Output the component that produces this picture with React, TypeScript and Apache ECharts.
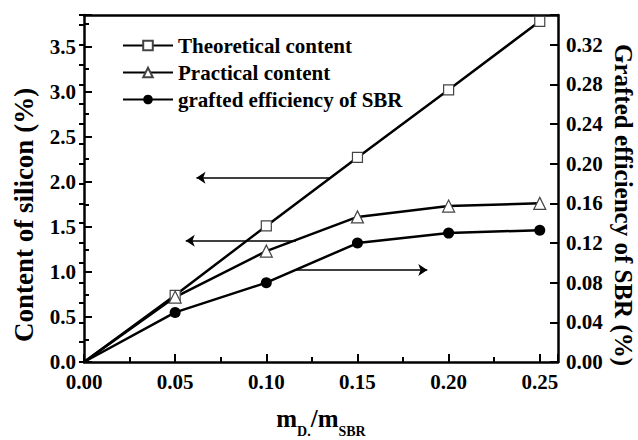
import React, { useEffect, useRef } from 'react';
import * as echarts from 'echarts';

const xValues = [0, 0.05, 0.1, 0.15, 0.2, 0.25];
const theoretical = [0, 0.74, 1.51, 2.27, 3.02, 3.78];
const practical = [0, 0.72, 1.23, 1.61, 1.73, 1.76];
const efficiency = [0, 0.05, 0.08, 0.12, 0.13, 0.133];
const seriesNames = ['Theoretical content', 'Practical content', 'grafted efficiency of SBR'];

const xTicks = { min: 0, max: 0.26, major: 0.05, minor: 0.025 };
const leftTicks = { min: 0, max: 3.85, major: 0.5, minor: 0.25 };
const rightTicks = { min: 0, max: 0.35, major: 0.04, minor: 0.02 };

// annotation arrows (data coordinates): start x, end x (tip), y value
const arrowStartX = [0.1346, 0.1163, 0.1163];
const arrowEndX = [0.0617, 0.0558, 0.1883];
const arrowY = [2.045, 1.346, 0.0928];

// x axis title pieces: text and whether it is a subscript
const xTitleParts = [
  { text: 'm', sub: false },
  { text: 'D.', sub: true },
  { text: '/m', sub: false },
  { text: 'SBR', sub: true },
];

const FONT = 'Liberation Serif';

const isMultiple = (v: number, step: number) => Math.abs(v / step - Math.round(v / step)) < 1e-6;

export default function App() {
  const ref = useRef<HTMLDivElement>(null);
  useEffect(() => {
    document.body.style.margin = '0';
    const chart = echarts.init(ref.current!, null, { renderer: 'svg' });
    const pts = (ys: number[]) =>
      xValues.map((x, i) => (i === 0 ? { value: [x, ys[i]], symbol: 'none' } : [x, ys[i]]));
    const labelStyle = { fontSize: 21, fontWeight: 'bold', fontFamily: FONT, color: '#000' };
    const lineAxis = { show: true, onZero: false, lineStyle: { color: '#000', width: 2.5 } };
    const arrowLine = (i: number) => [
      { coord: [arrowStartX[i], arrowY[i]] },
      { coord: [arrowEndX[i], arrowY[i]] },
    ];
    const markLineBase = {
      silent: true,
      symbol: ['none', 'arrow'],
      symbolSize: 9,
      label: { show: false },
      lineStyle: { color: '#000', width: 1.5, type: 'solid' },
      emphasis: { disabled: true },
    };

    // measure x title pieces to lay them out side by side, centred under the plot
    const MAIN = 25;
    const SUB = 14;
    const canvas = document.createElement('canvas');
    const ctx = canvas.getContext('2d')!;
    const widths = xTitleParts.map((p) => {
      ctx.font = `bold ${p.sub ? SUB : MAIN}px "${FONT}"`;
      return ctx.measureText(p.text).width;
    });
    const total = widths.reduce((a, b) => a + b, 0);
    const centerX = 84 + (638 - 84 - 80) / 2;
    const mainBaseline = 427;
    const subBaseline = 436;
    let cursor = centerX - total / 2;
    const xTitle = xTitleParts.map((p, i) => {
      const size = p.sub ? SUB : MAIN;
      const base = p.sub ? subBaseline : mainBaseline;
      const el = {
        type: 'text', x: cursor, y: base - 0.3375 * size,
        style: {
          text: p.text, fontSize: size, fontWeight: 'bold', fontFamily: FONT,
          fill: '#000', align: 'left', verticalAlign: 'middle',
        },
      };
      cursor += widths[i];
      return el;
    });

    const option: any = {
      animation: false,
      grid: { left: 84, right: 80, top: 15, bottom: 78, containLabel: false },
      legend: {
        orient: 'vertical',
        left: 122,
        top: 35,
        padding: 0,
        itemWidth: 50,
        itemHeight: 12,
        itemGap: 6,
        data: seriesNames,
        textStyle: { fontSize: 21, fontWeight: 'bold', fontFamily: FONT, color: '#000' },
      },
      xAxis: [
        {
          type: 'value', min: xTicks.min, max: xTicks.max, interval: xTicks.major, position: 'bottom',
          axisLine: lineAxis,
          axisTick: { show: true, inside: true, length: 8, lineStyle: { color: '#000', width: 2 } },
          axisLabel: {
            ...labelStyle, margin: 9,
            formatter: (v: number) => (isMultiple(v, xTicks.major) ? v.toFixed(2) : ''),
          },
          splitLine: { show: false },
        },
        {
          type: 'value', min: xTicks.min, max: xTicks.max, interval: xTicks.minor, position: 'bottom',
          axisLine: { show: false },
          axisTick: { show: true, inside: true, length: 5, lineStyle: { color: '#000', width: 2 } },
          axisLabel: { show: false },
          splitLine: { show: false },
        },
        {
          type: 'value', min: xTicks.min, max: xTicks.max, position: 'top',
          axisLine: lineAxis, axisTick: { show: false }, axisLabel: { show: false }, splitLine: { show: false },
        },
      ],
      yAxis: [
        {
          type: 'value', min: leftTicks.min, max: leftTicks.max, interval: leftTicks.major, position: 'left',
          axisLine: lineAxis,
          axisTick: { show: true, inside: true, length: 8, lineStyle: { color: '#000', width: 2 } },
          axisLabel: {
            ...labelStyle, margin: 8,
            formatter: (v: number) => (isMultiple(v, leftTicks.major) ? v.toFixed(1) : ''),
          },
          splitLine: { show: false },
        },
        {
          type: 'value', min: leftTicks.min, max: leftTicks.max, interval: leftTicks.minor, position: 'left',
          axisLine: { show: false },
          axisTick: { show: true, inside: true, length: 5, lineStyle: { color: '#000', width: 2 } },
          axisLabel: { show: false },
          splitLine: { show: false },
        },
        {
          type: 'value', min: rightTicks.min, max: rightTicks.max, interval: rightTicks.major, position: 'right',
          axisLine: lineAxis,
          axisTick: { show: true, inside: true, length: 8, lineStyle: { color: '#000', width: 2 } },
          axisLabel: {
            ...labelStyle, margin: 8,
            formatter: (v: number) => (isMultiple(v, rightTicks.major) ? v.toFixed(2) : ''),
          },
          splitLine: { show: false },
        },
        {
          type: 'value', min: rightTicks.min, max: rightTicks.max, interval: rightTicks.minor, position: 'right',
          axisLine: { show: false },
          axisTick: { show: true, inside: true, length: 5, lineStyle: { color: '#000', width: 2 } },
          axisLabel: { show: false },
          splitLine: { show: false },
        },
      ],
      series: [
        {
          name: seriesNames[0], type: 'line', xAxisIndex: 0, yAxisIndex: 0,
          data: pts(theoretical), symbol: 'rect', symbolSize: 10, z: 3,
          lineStyle: { color: '#000', width: 2.5 },
          itemStyle: { color: '#fff', borderColor: '#444', borderWidth: 1.2 },
          markLine: { ...markLineBase, data: [arrowLine(0), arrowLine(1)] },
        },
        {
          name: seriesNames[1], type: 'line', xAxisIndex: 0, yAxisIndex: 0,
          data: pts(practical), symbol: 'triangle', symbolSize: 12, z: 3,
          lineStyle: { color: '#000', width: 2.5 },
          itemStyle: { color: '#fff', borderColor: '#444', borderWidth: 1.2 },
        },
        {
          name: seriesNames[2], type: 'line', xAxisIndex: 0, yAxisIndex: 2,
          data: pts(efficiency), symbol: 'circle', symbolSize: 11, z: 3,
          lineStyle: { color: '#000', width: 2.5 },
          itemStyle: { color: '#000', borderColor: '#000', borderWidth: 0 },
          markLine: { ...markLineBase, data: [arrowLine(2)] },
        },
      ],
      graphic: [
        {
          type: 'text', x: 24, y: 215, rotation: Math.PI / 2,
          style: {
            text: 'Content of silicon (%)', fontSize: 27, fontWeight: 'bold', fontFamily: FONT,
            fill: '#000', align: 'center', verticalAlign: 'middle',
          },
        },
        {
          type: 'text', x: 623, y: 205, rotation: -Math.PI / 2,
          style: {
            text: 'Grafted efficiency of SBR (%)', fontSize: 25, fontWeight: 'bold', fontFamily: FONT,
            fill: '#000', align: 'center', verticalAlign: 'middle',
          },
        },
        ...xTitle,
      ],
    };
    chart.setOption(option);
    return () => chart.dispose();
  }, []);
  return <div ref={ref} style={{ width: 638, height: 440 }} />;
}
